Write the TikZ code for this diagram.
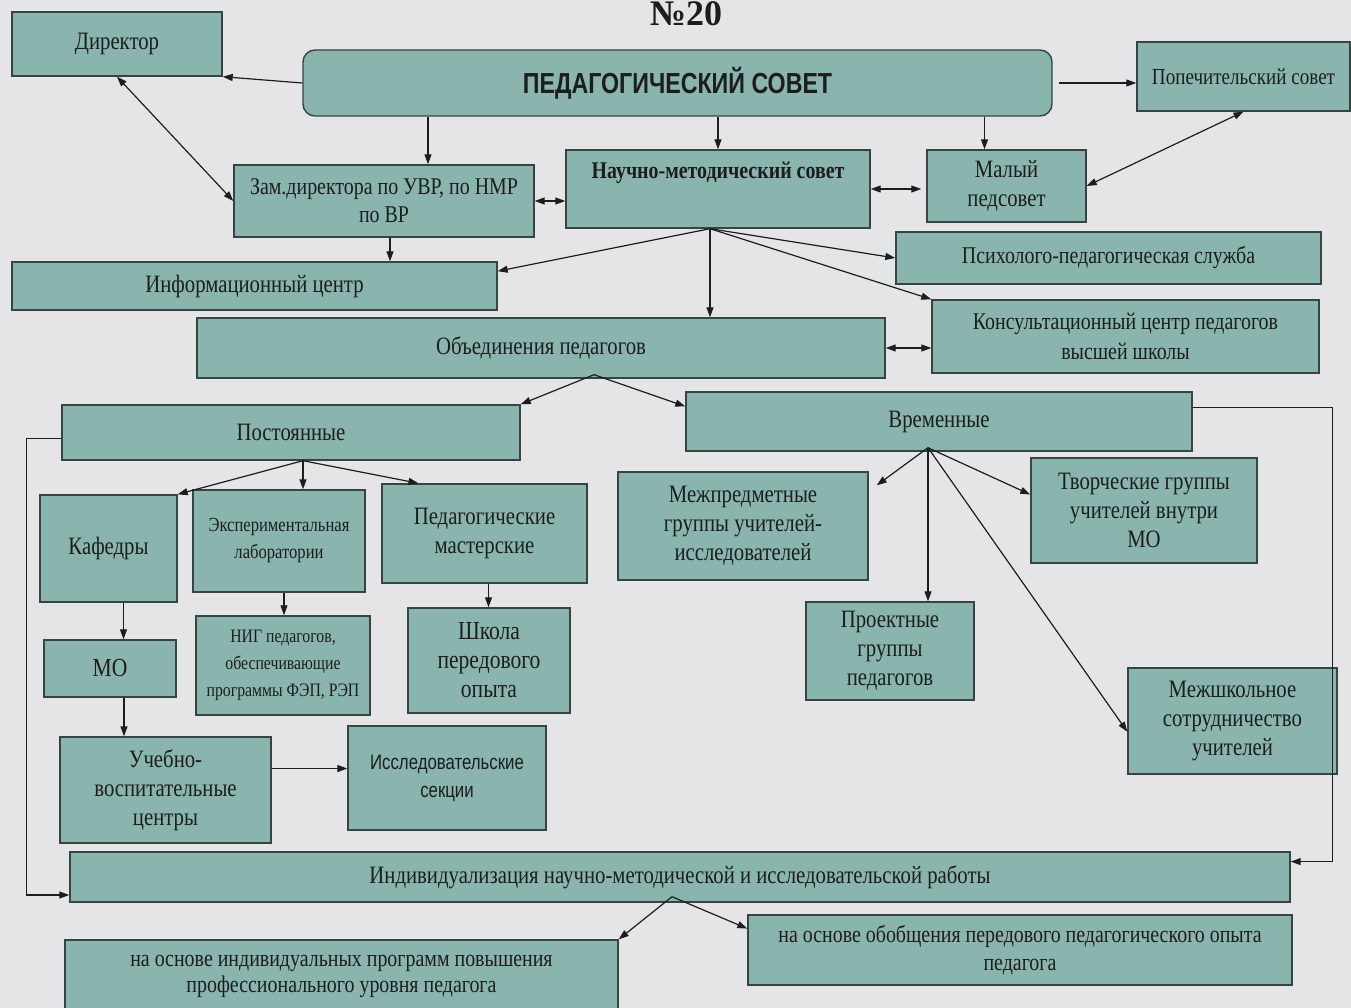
\documentclass[tikz,border=0pt]{standalone}
\usepackage{fontspec}
\setmainfont{Liberation Serif}[FakeStretch=0.83]
\newfontfamily\narsans{Liberation Sans}[FakeStretch=0.8]
\newfontfamily\titlefont{Liberation Serif}
\usetikzlibrary{arrows.meta,calc}
\definecolor{boxfill}{RGB}{138,180,174}
\definecolor{boxline}{RGB}{55,68,66}
\definecolor{paper}{RGB}{229,229,231}
\definecolor{ink}{RGB}{28,30,30}
\tikzset{
 box/.style={draw=boxline, fill=boxfill, line width=1.4pt, inner sep=0pt, align=center, text=ink, font=\fontsize{25}{29}\selectfont},
 arr/.style={draw=ink, line width=1.2pt, -{Triangle[length=10pt,width=7pt]}},
 darr/.style={draw=ink, line width=1.2pt, {Triangle[length=10pt,width=7pt]}-{Triangle[length=10pt,width=7pt]}},
}
\newcommand\bx[7][]{\node[box,minimum width={(#5-#3)*1pt},minimum height={(#6-#4)*1pt},#1] (#2) at ({(#3+#5)/2},{(#4+#6)/2}) {#7};}
\begin{document}
\begin{tikzpicture}[x=1pt,y=-1pt]
\fill[paper] (0,0) rectangle (1351,1008);
\useasboundingbox (0,0) rectangle (1351,1008);
\clip (0,0) rectangle (1351,1008);

\node[font=\titlefont\bfseries\fontsize{36}{36}\selectfont, text=ink] (title) at (686,14) {№20};

\bx{dir}{12}{12}{222}{76}{Директор}
\bx[rounded corners=12pt, font=\narsans\bfseries\fontsize{29}{32}\selectfont]{ps}{303}{50}{1052}{116}{ПЕДАГОГИЧЕСКИЙ СОВЕТ}
\bx[font=\fontsize{23}{28}\selectfont]{pop}{1137}{42}{1350}{111}{Попечительский совет}
\bx[font=\fontsize{24}{28}\selectfont]{zam}{234}{165}{534}{237}{Зам.директора по УВР, по НМР\\по ВР}
\bx[font=\bfseries\fontsize{24}{29}\selectfont]{nms}{566}{150}{870}{228}{Научно-методический совет\\\strut}
\bx{maly}{927}{150}{1086}{222}{Малый\\педсовет}
\bx{inf}{12}{262}{497}{310}{Информационный центр}
\bx[font=\fontsize{24}{28}\selectfont]{psy}{896}{232}{1321}{284}{Психолого-педагогическая служба}
\bx{obj}{197}{318}{885}{378}{Объединения педагогов}
\bx[font=\fontsize{24}{30}\selectfont]{kons}{932}{300}{1319}{373}{Консультационный центр педагогов\\высшей школы}
\bx{post}{62}{405}{520}{460}{Постоянные}
\bx{vrem}{686}{392}{1192}{451}{Временные}
\bx{kaf}{40}{495}{177}{602}{Кафедры}
\bx[font=\fontsize{20}{27}\selectfont]{eksp}{193}{490}{365}{592}{Экспериментальная\\лаборатории}
\bx{pm}{382}{484}{587}{583}{Педагогические\\мастерские}
\bx{mezh}{618}{472}{868}{580}{Межпредметные\\группы учителей-\\исследователей}
\bx{tvor}{1031}{458}{1257}{563}{Творческие группы\\учителей внутри\\МО}
\bx[font=\fontsize{26}{30}\selectfont]{mo}{44}{640}{176}{697}{МО}
\bx[font=\fontsize{19}{27}\selectfont]{nig}{196}{616}{370}{715}{НИГ педагогов,\\обеспечивающие\\программы ФЭП, РЭП}
\bx[font=\fontsize{26}{29}\selectfont]{shk}{408}{608}{570}{713}{Школа\\передового\\опыта}
\bx{proj}{806}{602}{974}{700}{Проектные\\группы\\педагогов}
\bx{msh}{1128}{668}{1337}{774}{Межшкольное\\сотрудничество\\учителей}
\bx{uvc}{60}{737}{271}{843}{Учебно-\\воспитательные\\центры}
\bx[font=\narsans\fontsize{21}{28}\selectfont]{issl}{348}{726}{546}{830}{Исследовательские\\секции}
\bx{ind}{70}{852}{1290}{902}{Индивидуализация научно-методической и исследовательской работы}
\bx[font=\fontsize{24}{26}\selectfont]{nai}{65}{940}{618}{1012}{на основе индивидуальных программ повышения\\профессионального уровня педагога}
\bx[font=\fontsize{24}{28}\selectfont]{nao}{748}{915}{1292}{985}{на основе обобщения передового педагогического опыта\\педагога}

% top level
\draw[arr] (ps.west) -- (dir.south east);
\draw[darr] (dir.south) -- (zam.west);
\coordinate (zt) at ($(zam.north)+(44,0)$);
\draw[arr] (ps.south -| zt) -- (zt);
\draw[arr] (ps.south -| nms.north) -- (nms.north);
\coordinate (mt) at ($(maly.north)+(-22,0)$);
\draw[arr] (ps.south -| mt) -- (mt);
\draw[arr,shorten <=6pt] (ps.east) -- (ps.east -| pop.west);
\draw[darr] (zam.east) -- (zam.east -| nms.west);
\draw[darr,shorten >=5pt] (nms.east) -- (nms.east -| maly.west);
\draw[darr] (maly.east) -- (pop.south);
\coordinate (zb) at ($(zam.south)+(6,0)$);
\draw[arr] (zb) -- (zb |- inf.north);

% from НМС
\coordinate (nb) at ($(nms.south)+(-8,0)$);
\draw[arr] (nb) -- ($(inf.north east)!0.2!(inf.south east)$);
\draw[arr] (nb) -- (nb |- obj.north);
\draw[arr] (nb) -- (psy.west);
\draw[arr] (nb) -- (kons.north west);
\draw[darr] (obj.east) -- (obj.east -| kons.west);

% объединения
\coordinate (ob) at ($(obj.south)+(53,-4)$);
\draw[arr] (ob) -- (post.north east);
\draw[arr] (ob) -- ($(vrem.north west)!0.25!(vrem.south west)$);

% постоянные
\coordinate (pb) at ($(post.south)+(12,0)$);
\draw[arr] (pb) -- (kaf.north east);
\draw[arr] (pb) -- (pb |- eksp.north);
\draw[arr] (pb) -- ($(pm.north west)!0.18!(pm.north east)$);
\coordinate (kb) at ($(kaf.south)+(15,0)$);
\draw[arr] (kb) -- (kb |- mo.north);
\coordinate (eb) at ($(eksp.south)+(5,0)$);
\draw[arr] (eb) -- (eb |- nig.north);
\coordinate (pmb) at ($(pm.south)+(4,0)$);
\draw[arr] (pmb) -- (pmb |- shk.north);
\coordinate (mb) at ($(mo.south)+(14,0)$);
\draw[arr] (mb) -- (mb |- uvc.north);
\coordinate (ue) at ($(uvc.north east)!0.3!(uvc.south east)$);
\draw[arr] (ue) -- (ue -| issl.west);

% временные
\coordinate (vb) at ($(vrem.south)+(-11,-4)$);
\draw[arr] (vb) -- ($(mezh.north east)+(8,14)$);
\draw[arr] (vb) -- (vb |- proj.north);
\draw[arr] (vb) -- ($(tvor.north west)!0.35!(tvor.south west)$);
\draw[arr] (vb) -- ($(msh.north west)!0.6!(msh.south west)$);

% side links
\draw[arr] ($(post.north west)!0.6!(post.south west)$) -- ++(-35,0) |- ($(ind.north west)!0.85!(ind.south west)$);
\draw[arr] ($(vrem.north east)!0.27!(vrem.south east)$) -- ++(140,0) |- ($(ind.north east)!0.2!(ind.south east)$);

% индивидуализация
\coordinate (ib) at ($(ind.south)+(-8,-6)$);
\draw[arr] (ib) -- (nai.north east);
\draw[arr] (ib) -- ($(nao.north west)!0.2!(nao.south west)$);
\end{tikzpicture}
\end{document}
